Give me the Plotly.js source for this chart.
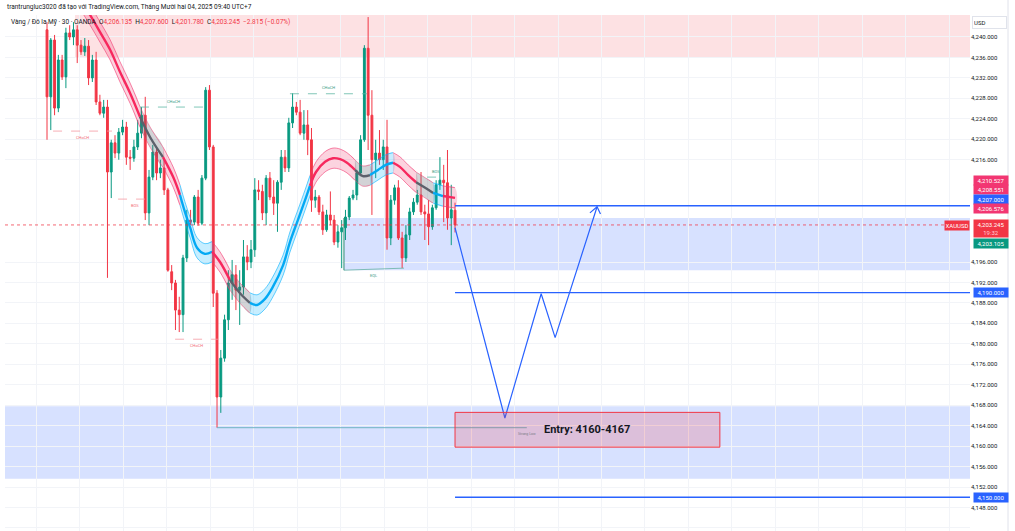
<!DOCTYPE html>
<html><head><meta charset="utf-8">
<script src="https://cdn.plot.ly/plotly-3.0.1.min.js"></script>
<style>html,body{margin:0;padding:0;background:#fff}#chart{width:1015px;height:531px}</style>
</head><body><div id="chart"></div>
<script>
// ---- candle data (XAUUSD 30m) ----
const candleOpen = [4241.4,4228.3,4239.4,4226.1,4235.5,4232.2,4240.8,4240.0,4241.4,4238.4,4237.1,4238.2,4232.0,4235.5,4227.3,4225.1,4226.3,4213.6,4219.3,4217.3,4221.4,4222.4,4216.5,4216.3,4218.5,4221.2,4224.7,4205.6,4212.6,4217.5,4213.4,4214.4,4210.1,4194.1,4191.9,4186.6,4185.7,4196.8,4204.2,4203.8,4208.7,4203.6,4212.4,4229.6,4218.5,4189.9,4169.6,4177.2,4184.7,4191.9,4193.5,4190.5,4191.1,4197.0,4196.0,4198.4,4210.1,4209.8,4205.6,4212.4,4208.7,4207.5,4211.6,4216.5,4214.4,4223.2,4226.3,4225.3,4221.2,4222.8,4219.9,4208.1,4208.7,4205.8,4202.3,4205.2,4204.2,4199.9,4201.9,4202.7,4204.8,4208.5,4209.1,4213.4,4219.9,4237.8,4224.7,4216.0,4217.3,4216.0,4218.5,4200.7,4208.1,4210.5,4200.7,4196.8,4201.3,4205.8,4207.7,4209.1,4205.8,4205.4,4202.9,4206.6,4211.1,4212.0,4211.5,4204.6,4206.135];
const candleHigh = [4242.9,4239.8,4240.4,4236.5,4236.5,4241.8,4242.3,4242.9,4242.3,4239.4,4239.8,4239.4,4236.5,4237.1,4228.7,4227.7,4227.7,4219.9,4220.8,4222.2,4223.8,4223.4,4217.9,4219.9,4223.8,4226.3,4228.3,4214.0,4218.9,4218.3,4216.0,4216.0,4210.5,4195.4,4192.5,4189.2,4197.4,4206.2,4206.2,4209.1,4210.1,4213.0,4230.2,4230.6,4218.9,4190.5,4178.8,4185.7,4194.4,4196.4,4195.4,4194.4,4200.3,4199.3,4200.3,4212.4,4212.0,4211.1,4213.0,4213.6,4212.0,4212.0,4217.9,4217.9,4224.2,4229.0,4227.3,4227.7,4225.7,4225.7,4222.2,4210.1,4209.1,4207.2,4206.2,4209.8,4205.2,4203.2,4204.2,4206.2,4208.9,4210.1,4214.0,4220.8,4238.4,4243.9,4229.6,4219.9,4221.8,4219.9,4223.8,4209.1,4211.1,4212.0,4201.9,4203.2,4206.6,4208.5,4210.1,4213.6,4207.2,4208.1,4207.2,4212.0,4216.5,4215.0,4217.9,4211.1,4207.6];
const candleLow = [4219.9,4221.8,4224.7,4225.3,4231.6,4230.0,4239.4,4238.4,4234.9,4236.5,4236.3,4230.6,4231.2,4226.7,4224.7,4224.2,4192.9,4208.5,4216.3,4216.0,4220.8,4215.0,4214.0,4215.6,4217.9,4220.2,4204.2,4203.2,4212.0,4212.0,4212.4,4209.1,4194.1,4190.5,4182.7,4182.3,4182.3,4196.0,4203.2,4203.2,4203.1,4203.2,4212.0,4217.9,4187.2,4163.6,4166.5,4176.5,4182.7,4188.6,4186.6,4183.7,4189.6,4194.4,4194.8,4197.0,4208.1,4204.2,4203.2,4208.1,4205.2,4201.9,4210.1,4213.6,4213.6,4222.2,4224.7,4220.8,4219.9,4216.9,4205.8,4206.6,4205.2,4201.3,4201.9,4203.2,4199.3,4198.8,4194.8,4200.3,4204.2,4208.1,4208.1,4212.8,4219.5,4217.9,4205.2,4212.4,4215.0,4214.0,4198.4,4199.3,4207.2,4200.3,4194.8,4196.0,4200.3,4205.2,4207.2,4205.2,4200.3,4199.3,4202.3,4206.2,4210.1,4203.8,4202.3,4199.3,4201.78];
const candleClose = [4228.3,4239.4,4226.1,4235.5,4232.2,4240.8,4240.0,4241.4,4238.4,4237.1,4238.2,4232.0,4235.5,4227.3,4225.1,4226.3,4213.6,4219.3,4217.3,4221.4,4222.4,4216.5,4216.3,4218.5,4221.2,4224.7,4205.6,4212.6,4217.5,4213.4,4214.4,4210.1,4194.4,4191.9,4186.6,4185.7,4196.8,4204.2,4203.8,4208.7,4203.6,4212.4,4229.6,4218.5,4189.9,4169.6,4177.2,4184.7,4191.9,4193.5,4190.5,4191.1,4197.0,4196.0,4198.4,4210.1,4209.8,4205.6,4212.4,4208.7,4207.5,4211.6,4216.5,4214.4,4223.2,4226.3,4225.3,4221.2,4222.8,4219.9,4208.1,4208.7,4205.8,4202.3,4205.2,4204.2,4199.9,4201.9,4202.7,4204.8,4208.5,4209.1,4213.4,4219.9,4237.8,4224.7,4216.0,4217.3,4216.0,4218.5,4200.7,4208.1,4210.5,4200.7,4196.8,4201.3,4205.8,4207.7,4209.1,4205.8,4205.4,4202.9,4206.6,4211.1,4212.0,4211.5,4204.6,4206.2,4203.245];
const candleIndex = candleOpen.map((_, i) => i);

// ---- smoothed trend ribbon (centre line) ----
const maX = [9.3,11.4,14.0,16.7,19.3,22.0,24.6,27.3,30.7,33.4,35.2,36.5,37.9,39.7,41.8,43.7,45.8,48.4,51.1,53.7,55.6,57.7,59.6,62.5,64.3,66.4,68.3,69.6,71.2,73.6,75.7,77.6,79.4,81.5,83.6,85.5,87.6,89.7,91.6,93.4,95.6,97.7,100.1,102.2,104.8,108];
const maY = [4246.8,4244.3,4241.0,4237.5,4233.2,4229.0,4224.4,4220.4,4216.5,4212.6,4209.1,4205.8,4202.7,4198.8,4197.6,4198.0,4196.0,4192.5,4189.9,4188.0,4187.6,4188.8,4190.9,4195.4,4199.9,4204.2,4208.1,4210.9,4213.6,4215.6,4216.3,4216.1,4215.4,4214.0,4212.8,4213.0,4214.0,4215.0,4215.4,4214.6,4213.0,4211.6,4210.5,4209.5,4208.9,4208.551];
const maSegState = ['p','p','p','p','p','p','g','g','p','p','c','c','c','c','c','p','p','g','g','c','c','c','c','c','c','c','c','p','p','p','p','p','p','g','g','c','c','c','p','p','p','g','g','c','p'];
const maHalfWidth = 1.98;

// ---- projected path ----
const pathX = [108, 121.2, 130.8, 134.5, 145.6];
const pathY = [4202.7, 4165.5, 4189.8, 4181.2, 4206.8];

// ---- levels & zones ----
const levelPrices = [4207.0, 4190.0, 4150.0];
const supplyZone = {x0: 7.4, y0: 4236.1, y1: 4244.3};
const midZone = {x0: 78.6, y0: 4194.4, y1: 4204.6};
const lowZone = {y0: 4153.6, y1: 4167.8};
const entryBox = {x0: 108, x1: 178.1, y0: 4159.8, y1: 4166.6};
const entryText = 'Entry: 4160-4167';
const strongLow = {x0: 45, x1: 127, y: 4163.6, label: 'Strong Low'};

// ---- market-structure marks ----
const structLevels = [4221.6, 4226.3, 4208.3, 4180.9, 4228.9, 4212.6];
const structStart = [1.6, 24.6, 18.8, 33.9, 64.3, 100.6];
const structEnd = [17.2, 42.6, 27.8, 45.3, 84.7, 105.3];
const structLabels = ['CHoCH', 'CHoCH', 'BOS', 'CHoCH', 'CHoCH', 'BOS'];
const structBull = [false, true, false, false, true, true];
const eqlX = [78.6, 94.5];
const eqlY = [4194.4, 4194.8];

// ---- price-scale (ticks hidden behind value labels are left out, as in the picture) ----
const priceTicks = [4144,4148,4152,4156,4160,4164,4168,4172,4176,4180,4184,4188,4192,4196,4216,4220,4224,4228,4232,4236,4240];
const scaleLabelText = ['4,210.527', '4,208.551', '4,207.000', '4,206.576', '4,190.000', '4,150.000', '4,203.105'];
const scaleLabelPrice = [4210.527, 4208.551, 4207.0, 4206.576, 4190.0, 4150.0, 4203.105];
const scaleLabelColor = ['#f23672', '#f23672', '#2962ff', '#f23672', '#2962ff', '#2962ff', '#089981'];
const scaleLabelShift = [7.2, 7.9, 6.3, -1.0, 0, 0, -18.3];
const lastPrice = 4203.245;
const countdown = '19:32';

const headerText = 'trantrungluc3020 đã tạo với TradingView.com, Tháng Mười hai 04, 2025 09:40 UTC+7';
const symbolText = 'Vàng / Đô la Mỹ · 30 · OANDA';
const ohlcText = ['4,206.135', '4,207.600', '4,201.780', '4,203.245'];
const changeText = '−2.815 (−0.07%)';

// ---- build ----
const UP = '#089981', DN = '#f23645';
const XMIN = -11.12, XMAX = 244.31;
const FONT = 'Roboto, "Liberation Sans", Arial, sans-serif';

const traces = [];
traces.push({
  type: 'candlestick', x: candleIndex, open: candleOpen, high: candleHigh, low: candleLow, close: candleClose,
  increasing: {line: {color: UP, width: 1}, fillcolor: UP},
  decreasing: {line: {color: DN, width: 1}, fillcolor: DN},
  whiskerwidth: 0, hoverinfo: 'skip', showlegend: false
});

const stateStyle = {
  p: {fill: 'rgba(242,54,110,0.22)', edge: 'rgba(242,54,110,0.75)', mid: '#f7285e'},
  c: {fill: 'rgba(0,176,255,0.22)', edge: 'rgba(0,176,255,0.75)', mid: '#03a9f4'},
  g: {fill: 'rgba(93,96,107,0.28)', edge: 'rgba(242,54,110,0.6)', mid: '#5d606b'}
};
let s = 0;
while (s < maSegState.length) {
  let e = s;
  while (e + 1 < maSegState.length && maSegState[e + 1] === maSegState[s]) e++;
  const xs = maX.slice(s, e + 2), ys = maY.slice(s, e + 2);
  const up = ys.map(v => v + maHalfWidth), lo = ys.map(v => v - maHalfWidth);
  const st = stateStyle[maSegState[s]];
  traces.push({type: 'scatter', mode: 'lines', x: xs.concat(xs.slice().reverse()), y: up.concat(lo.slice().reverse()),
    fill: 'toself', fillcolor: st.fill, line: {width: 0, shape: 'spline'}, hoverinfo: 'skip', showlegend: false});
  traces.push({type: 'scatter', mode: 'lines', x: xs, y: up, line: {color: st.edge, width: 0.8, shape: 'spline'}, hoverinfo: 'skip', showlegend: false});
  traces.push({type: 'scatter', mode: 'lines', x: xs, y: lo, line: {color: st.edge, width: 0.8, shape: 'spline'}, hoverinfo: 'skip', showlegend: false});
  traces.push({type: 'scatter', mode: 'lines', x: xs, y: ys, line: {color: st.mid, width: 2.4, shape: 'spline'}, hoverinfo: 'skip', showlegend: false});
  s = e + 1;
}

// structure lines
for (let i = 0; i < structLevels.length; i++) {
  traces.push({type: 'scatter', mode: 'lines', x: [structStart[i], structEnd[i]], y: [structLevels[i], structLevels[i]],
    line: {color: structBull[i] ? '#5fb8a4' : '#f59aa2', width: 0.8, dash: 'dash'}, hoverinfo: 'skip', showlegend: false});
}
traces.push({type: 'scatter', mode: 'lines', x: eqlX, y: eqlY, line: {color: '#66b3a3', width: 0.8}, hoverinfo: 'skip', showlegend: false});
traces.push({type: 'scatter', mode: 'lines', x: [eqlX[0], eqlX[0]], y: [eqlY[0], midZone.y1], line: {color: '#2e8b6e', width: 1}, hoverinfo: 'skip', showlegend: false});
traces.push({type: 'scatter', mode: 'lines', x: [strongLow.x0, strongLow.x1], y: [strongLow.y, strongLow.y], line: {color: '#6fb3c3', width: 1}, hoverinfo: 'skip', showlegend: false});

// projected path + arrow head
traces.push({type: 'scatter', mode: 'lines', x: pathX, y: pathY, line: {color: '#2962ff', width: 1.2}, hoverinfo: 'skip', showlegend: false});
const ex = pathX[pathX.length - 1], ey = pathY[pathY.length - 1];
traces.push({type: 'scatter', mode: 'lines', x: [ex - 1.9, ex, ex + 0.9], y: [ey - 1.2, ey, ey - 1.4], line: {color: '#2962ff', width: 1.2}, hoverinfo: 'skip', showlegend: false});

const shapes = [
  {type: 'rect', layer: 'below', xref: 'x', yref: 'y', x0: supplyZone.x0, x1: XMAX, y0: supplyZone.y0, y1: supplyZone.y1, fillcolor: 'rgba(242,54,69,0.15)', line: {width: 0}},
  {type: 'rect', layer: 'below', xref: 'x', yref: 'y', x0: midZone.x0, x1: XMAX, y0: midZone.y0, y1: midZone.y1, fillcolor: 'rgba(41,98,255,0.19)', line: {width: 0}},
  {type: 'rect', layer: 'below', xref: 'x', yref: 'y', x0: XMIN, x1: XMAX, y0: lowZone.y0, y1: lowZone.y1, fillcolor: 'rgba(41,98,255,0.19)', line: {width: 0}},
  {type: 'rect', layer: 'above', xref: 'x', yref: 'y', x0: entryBox.x0, x1: entryBox.x1, y0: entryBox.y0, y1: entryBox.y1, fillcolor: 'rgba(242,54,69,0.2)', line: {color: '#f23645', width: 1}},
  {type: 'line', layer: 'above', xref: 'x', yref: 'y', x0: XMIN, x1: XMAX, y0: lastPrice, y1: lastPrice, line: {color: 'rgba(242,54,69,0.75)', width: 1, dash: 'dot'}},
  {type: 'line', xref: 'paper', yref: 'paper', x0: 1.0394, x1: 1.0394, y0: -0.01, y1: 1.03, line: {color: '#e0e3eb', width: 1}}
];
levelPrices.forEach(p => shapes.push({type: 'line', layer: 'above', xref: 'x', yref: 'y', x0: candleIndex[candleIndex.length - 1], x1: XMAX, y0: p, y1: p, line: {color: '#2962ff', width: 1.3}}));

const annotations = [];
annotations.push({xref: 'paper', yref: 'paper', x: 0, y: 1.0155, xanchor: 'left', yanchor: 'middle', showarrow: false,
  text: headerText, font: {family: FONT, size: 6.5, color: '#131722'}});
const red = t => '<span style="color:#f23645">' + t + '</span>';
annotations.push({xref: 'paper', yref: 'paper', x: 0.004, y: 0.9864, xanchor: 'left', yanchor: 'middle', showarrow: false,
  text: symbolText + '  O' + red(ohlcText[0]) + '  H' + red(ohlcText[1]) + '  L' + red(ohlcText[2]) + '  C' + red(ohlcText[3]) + '  ' + red(changeText),
  font: {family: FONT, size: 6.5, color: '#131722'}});
annotations.push({xref: 'x', yref: 'y', x: (entryBox.x0 + entryBox.x1) / 2, y: (entryBox.y0 + entryBox.y1) / 2, showarrow: false,
  text: '<b>' + entryText + '</b>', font: {family: FONT, size: 11, color: '#131722'}});
annotations.push({xref: 'x', yref: 'y', x: strongLow.x1, y: strongLow.y, yshift: -6, showarrow: false,
  text: strongLow.label, font: {family: FONT, size: 3.5, color: '#787b86'}});
for (let i = 0; i < structLevels.length; i++) {
  annotations.push({xref: 'x', yref: 'y', x: (structStart[i] + structEnd[i]) / 2, y: structLevels[i], yshift: structBull[i] ? 6 : -6, showarrow: false,
    text: structLabels[i], font: {family: FONT, size: 4, color: structBull[i] ? '#3a9b85' : '#f26b77'}});
}
annotations.push({xref: 'x', yref: 'y', x: (eqlX[0] + eqlX[1]) / 2, y: eqlY[0], yshift: -5, showarrow: false,
  text: 'EQL', font: {family: FONT, size: 4, color: '#3a9b85'}});

for (let i = 0; i < scaleLabelText.length; i++) {
  annotations.push({xref: 'paper', yref: 'y', x: 1, xshift: 3, xanchor: 'left', y: scaleLabelPrice[i], yshift: scaleLabelShift[i],
    showarrow: false, text: scaleLabelText[i], bgcolor: scaleLabelColor[i], width: 33, height: 7.5, borderpad: 0.5,
    font: {family: FONT, size: 6, color: '#ffffff'}});
}
annotations.push({xref: 'paper', yref: 'y', x: 1, xshift: 3, xanchor: 'left', y: lastPrice, yshift: -4, showarrow: false,
  text: '4,203.245<br><span style="color:#ffd0d6">' + countdown + '</span>', bgcolor: '#f23645', width: 33, height: 16, borderpad: 0.5,
  font: {family: FONT, size: 6, color: '#ffffff'}});
annotations.push({xref: 'paper', yref: 'y', x: 1, xshift: 0, xanchor: 'right', y: lastPrice, yshift: -1, showarrow: false,
  text: 'XAUUSD', bgcolor: '#f23645', height: 7.5, borderpad: 0.5, font: {family: FONT, size: 6, color: '#ffffff'}});
annotations.push({xref: 'paper', yref: 'paper', x: 1, xshift: 2, xanchor: 'left', y: 0.9864, yanchor: 'middle', showarrow: false,
  text: 'USD', bordercolor: '#e0e3eb', borderwidth: 1, width: 31, height: 9, align: 'left', bgcolor: '#ffffff',
  font: {family: FONT, size: 6, color: '#131722'}});

const layout = {
  width: 1015, height: 531,
  margin: {l: 5, r: 45, t: 15, b: 0},
  paper_bgcolor: '#ffffff', plot_bgcolor: '#ffffff',
  showlegend: false, hovermode: false,
  xaxis: {range: [XMIN, XMAX], showgrid: true, gridcolor: '#f2f4f8', gridwidth: 1, tick0: 8.65, dtick: 11.51,
    showticklabels: false, ticks: '', zeroline: false, showline: false, rangeslider: {visible: false}, fixedrange: true},
  yaxis: {range: [4143.4, 4244.3], side: 'right', tickmode: 'array', tickvals: priceTicks, tickformat: ',.3f',
    tickfont: {family: FONT, size: 6, color: '#131722'}, gridcolor: '#f2f4f8', gridwidth: 1,
    zeroline: false, showline: false, ticks: '', fixedrange: true},
  shapes: shapes, annotations: annotations
};
Plotly.newPlot('chart', traces, layout, {displayModeBar: false, staticPlot: true});
</script></body></html>
